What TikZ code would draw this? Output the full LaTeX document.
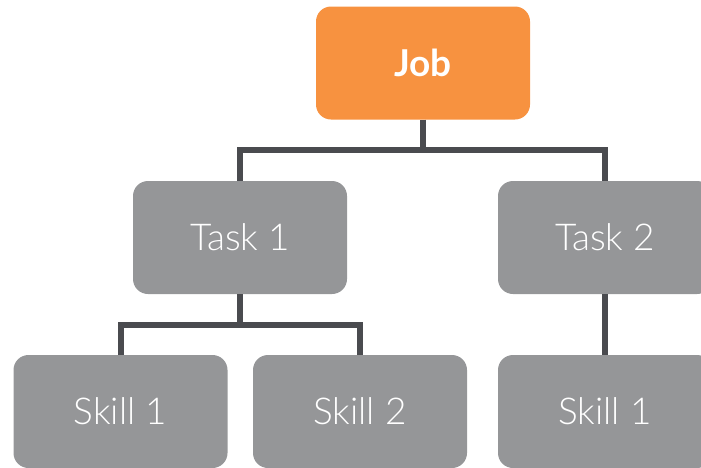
\documentclass[tikz,border=0pt]{standalone}
\usepackage{fontspec}
\setmainfont{Lato}
\newfontfamily\lightfont{Lato Light}
\definecolor{joborange}{HTML}{F79240}
\definecolor{boxgrey}{HTML}{959698}
\definecolor{linegrey}{HTML}{4A4B4F}
\begin{document}
\begin{tikzpicture}[x=1pt,y=-1pt,
  box/.style={rounded corners=15pt, minimum width=214pt, minimum height=113pt,
    inner sep=0pt, text=white, font=\fontsize{37}{40}\selectfont\lightfont},
  taskbox/.style={box, fill=boxgrey},
  jobbox/.style={box, fill=joborange, font=\fontsize{37}{40}\selectfont\bfseries},
  conn/.style={draw=linegrey, line width=6pt}]
\useasboundingbox (0,0) rectangle (701,467);
\clip (0,0) rectangle (701,467);
\node[jobbox] (job) at (423,63) {Job};
\node[taskbox] (t1) at (240,237.5) {Task 1};
\node[taskbox] (t2) at (605,237.5) {Task 2};
\node[taskbox] (s1) at (120.5,411.5) {Skill 1};
\node[taskbox] (s2) at (360,411.5) {Skill 2};
\node[taskbox] (s3) at (605,411.5) {Skill 1};
\coordinate (jb) at (423,150);
\coordinate (tb) at (240,325);
\draw[conn] (job.south) -- (jb);
\draw[conn] (t1.north) |- (jb) -| (t2.north);
\draw[conn] (t1.south) -- (tb);
\draw[conn] (s1.north) |- (tb) -| (s2.north);
\draw[conn] (t2.south) -- (s3.north);
\end{tikzpicture}
\end{document}
